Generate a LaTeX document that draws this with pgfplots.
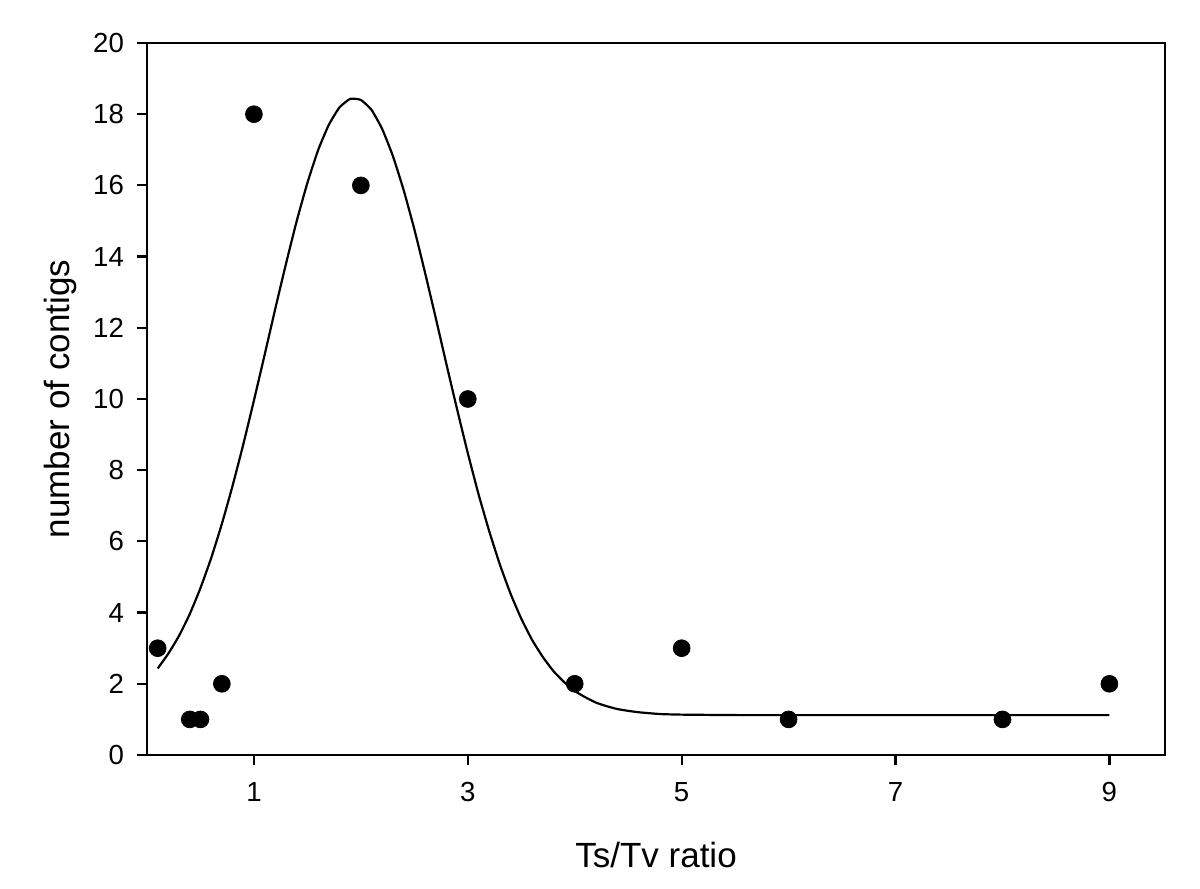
\documentclass[border=0pt]{standalone}
\usepackage{pgfplots}
\pgfplotsset{compat=1.18}
\usepackage{fontspec}
\setmainfont{Liberation Sans}

\begin{document}
\begin{tikzpicture}
% page frame: 1 px of the reference = 0.5pt
\useasboundingbox (-73.5pt,-67pt) rectangle (526.5pt,377.5pt);
\begin{axis}[
  at={(0,0)}, anchor=south west,
  width=509pt, height=356pt, scale only axis,
  xmin=0, xmax=9.52, ymin=0, ymax=20,
  xtick={1,3,5,7,9}, ytick={0,2,...,20},
  xticklabels={1,3,5,7,9},
  yticklabels={0,2,4,6,8,10,12,14,16,18,20},
  xtick pos=bottom, ytick pos=left,
  tick align=outside, major tick length=5pt,
  axis line style={line width=1.2pt},
  every tick/.style={black, line width=1.1pt},
  xticklabel style={font=\fontsize{13.8}{16}\selectfont, yshift=-5pt},
  yticklabel style={font=\fontsize{13.8}{16}\selectfont, xshift=-3pt},
  xlabel={Ts/Tv ratio}, ylabel={number of contigs},
  label style={font=\fontsize{17.5}{21}\selectfont},
  xlabel style={at={(axis description cs:0.5,-0.1573)}, anchor=base},
  ylabel style={at={(axis description cs:-0.0757,0.5)}, anchor=base, rotate=0},
  clip=false,
]
\addplot[black, line width=1.1pt, smooth, tension=0.3] coordinates {
(0.1,2.43) (0.2,2.85) (0.3,3.35) (0.4,3.96) (0.5,4.69) (0.6,5.53)
(0.7,6.49) (0.8,7.56) (0.9,8.72) (1.0,9.96) (1.1,11.24) (1.2,12.54)
(1.3,13.80) (1.4,15.00) (1.5,16.07) (1.6,16.99) (1.7,17.70) (1.8,18.19)
(1.9,18.43) (2.0,18.40) (2.1,18.12) (2.2,17.58) (2.3,16.82) (2.4,15.87)
(2.5,14.77) (2.6,13.55) (2.7,12.28) (2.8,10.98) (2.9,9.71) (3.0,8.48)
(3.1,7.33) (3.2,6.29) (3.3,5.35) (3.4,4.53) (3.5,3.83) (3.6,3.24)
(3.7,2.76) (3.8,2.36) (3.9,2.05) (4.0,1.80) (4.1,1.62) (4.2,1.47)
(4.3,1.37) (4.4,1.29) (4.5,1.24) (4.6,1.20) (4.8,1.15) (5.0,1.134)
(5.5,1.121) (6,1.12) (7,1.12) (8,1.12) (9,1.12)
};
\addplot[only marks, mark=*, mark size=4.2pt, black] coordinates {
(0.1,3) (0.4,1) (0.5,1) (0.7,2) (1,18) (2,16) (3,10)
(4,2) (5,3) (6,1) (8,1) (9,2)
};
\end{axis}
\end{tikzpicture}
\end{document}
